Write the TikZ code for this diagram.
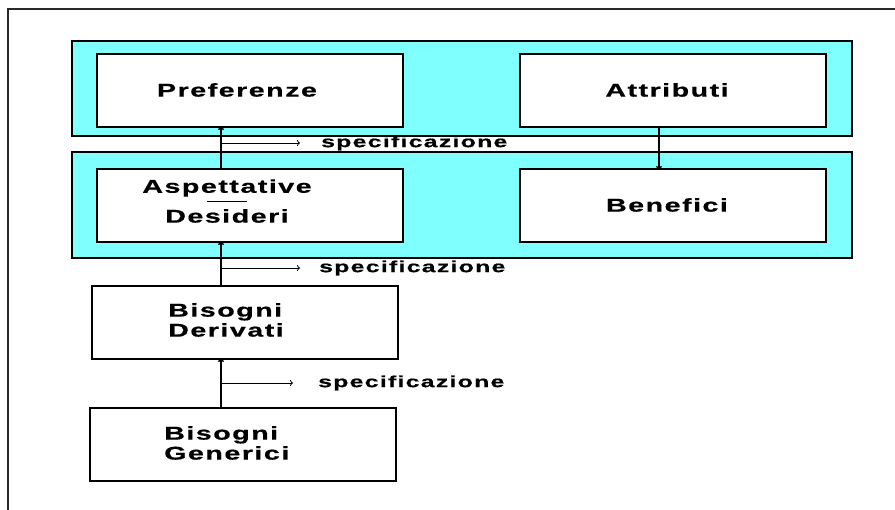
\documentclass[tikz,border=0pt]{standalone}
\usepackage{fontspec}
\usetikzlibrary{arrows.meta}
\newfontfamily\lab[FakeStretch=1.55,LetterSpace=8,FakeBold=0.6]{Liberation Sans Bold}
\definecolor{panelcyan}{RGB}{128,255,255}
\definecolor{frameline}{RGB}{40,40,40}
\begin{document}
\begin{tikzpicture}[x=1pt,y=-1pt,
  panel/.style={draw=black,fill=panelcyan,line width=1.5pt,inner sep=0pt,outer sep=0pt,minimum width=780pt,anchor=north west},
  box/.style={draw=black,fill=white,line width=1.5pt,inner sep=0pt,outer sep=0pt,minimum width=306pt,minimum height=73pt,anchor=north west},
  lbl/.style={inner sep=0pt,font=\lab\fontsize{18.5}{20}\selectfont},
  spec/.style={inner sep=0pt,anchor=west,font=\lab\fontsize{16}{18}\selectfont},
  conn/.style={line width=1.5pt,-{To[length=3pt,width=6pt]}},
  thin/.style={line width=0.8pt,-{To[length=3pt,width=6pt]}}]
\useasboundingbox (0,0) rectangle (895,510);
\fill[white] (0,0) rectangle (895,510);
% outer frame (cropped)
\draw[frameline,line width=1.5pt] (8,515) -- (8,9) -- (900,9);
% panels
\node[panel,minimum height=95pt] (p1) at (72,41) {};
\node[panel,minimum height=106pt] (p2) at (72,152) {};
% boxes
\node[box] (pref) at (97,54) {};
\node[box] (attr) at (520,54) {};
\node[box] (asp) at (97,169) {};
\node[box] (ben) at (520,169) {};
\node[box] (der) at (92,286) {};
\node[box] (gen) at (90,408) {};
% labels
\node[lbl] (tpref) at (237,90) {Preferenze};
\node[lbl] (tattr) at (667,90) {Attributi};
\node[lbl] (tben) at (667,205) {Benefici};
\node[lbl] (tasp) at (227,188) {Aspettative};
\node[lbl] (tdes) at (227,216) {Desideri};
\draw[line width=1pt] (207,202) -- (247,202);
\node[lbl,anchor=west,align=left] (tder) at (168,320) {Bisogni\\Derivati};
\node[lbl,anchor=west,align=left] (tgen) at (164,443) {Bisogni\\Generici};
% connectors
\coordinate (vx) at (221,0);
\coordinate (ax) at (659,0);
\draw[conn] (gen.north -| vx) -- (der.south -| vx);
\draw[conn] (der.north -| vx) -- (asp.south -| vx);
\draw[conn] (asp.north -| vx) -- (pref.south -| vx);
\draw[conn] (attr.south -| ax) -- (ben.north -| ax);
% specificazione arrows
\coordinate (s1) at (221,143);
\coordinate (e1) at (300,143);
\coordinate (s2) at (221,268);
\coordinate (e2) at (300,268);
\coordinate (s3) at (221,383);
\coordinate (e3) at (293,383);
\draw[thin] (s1) -- (e1);
\draw[thin] (s2) -- (e2);
\draw[thin] (s3) -- (e3);
\node[spec] (sp1) at (321,143) {specificazione};
\node[spec] (sp2) at (319,268) {specificazione};
\node[spec] (sp3) at (318,383) {specificazione};
\end{tikzpicture}
\end{document}
